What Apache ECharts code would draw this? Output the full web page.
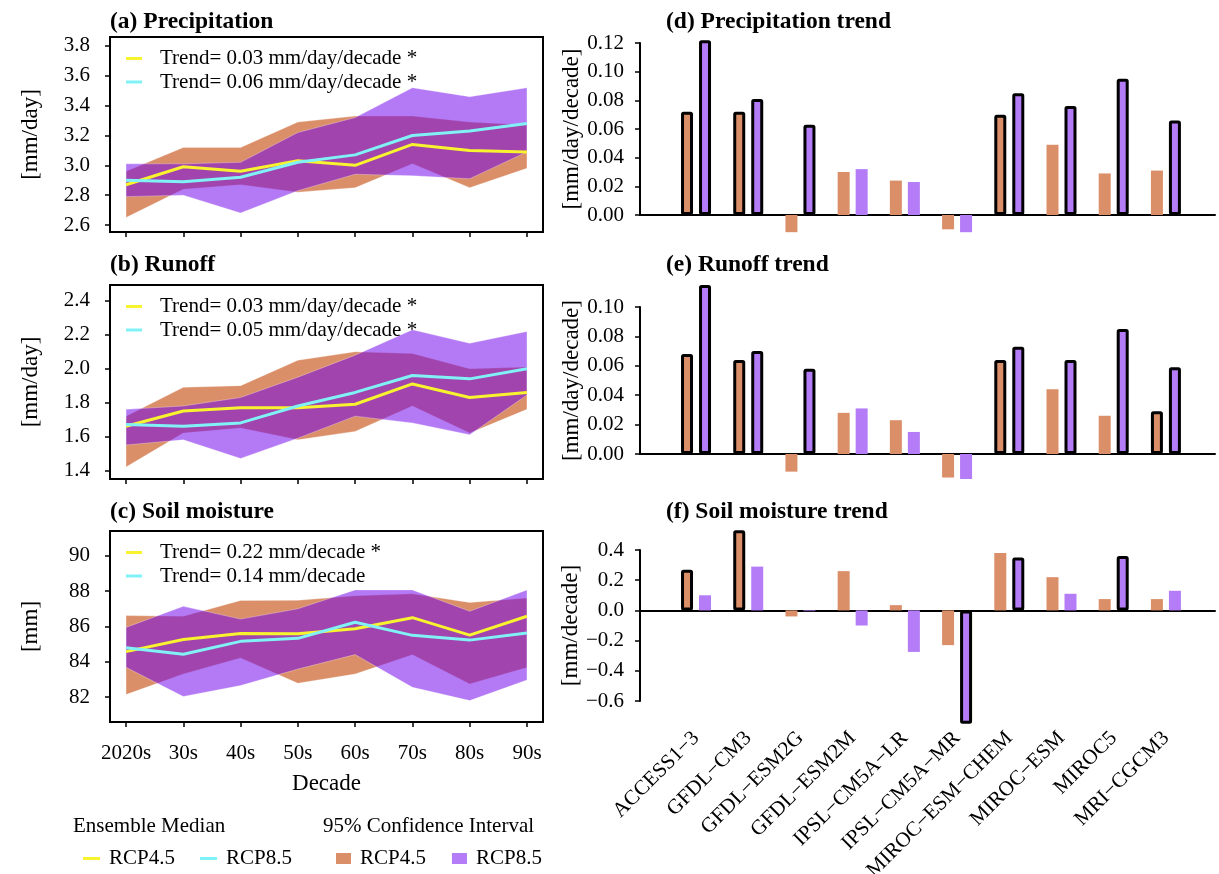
<!DOCTYPE html>
<html><head><meta charset="utf-8">
<script src="https://cdn.jsdelivr.net/npm/echarts@6/dist/echarts.min.js"></script>
<style>html,body{margin:0;padding:0;background:#fff}#c{width:1219px;height:874px}</style>
</head><body><div id="c"></div>
<script>
// ---------------- data ----------------
var decades = ['2020s', '30s', '40s', '50s', '60s', '70s', '80s', '90s'];

var precMed45 = [2.87, 2.99, 2.96, 3.03, 3.00, 3.14, 3.10, 3.09];
var precMed85 = [2.90, 2.89, 2.92, 3.02, 3.07, 3.20, 3.23, 3.28];
var precLo45  = [2.65, 2.84, 2.87, 2.82, 2.85, 3.01, 2.85, 2.98];
var precHi45  = [2.96, 3.12, 3.12, 3.29, 3.33, 3.33, 3.29, 3.27];
var precLo85  = [2.79, 2.80, 2.68, 2.83, 2.94, 2.93, 2.91, 3.09];
var precHi85  = [3.01, 3.01, 3.02, 3.22, 3.32, 3.52, 3.46, 3.52];
var precTicks = [2.6, 2.8, 3.0, 3.2, 3.4, 3.6, 3.8];
var precTrend = ['Trend= 0.03 mm/day/decade *', 'Trend= 0.06 mm/day/decade *'];

var runMed45 = [1.66, 1.75, 1.77, 1.77, 1.79, 1.91, 1.83, 1.86];
var runMed85 = [1.67, 1.66, 1.68, 1.78, 1.86, 1.96, 1.94, 2.00];
var runLo45  = [1.42, 1.62, 1.65, 1.58, 1.63, 1.78, 1.62, 1.76];
var runHi45  = [1.72, 1.89, 1.90, 2.05, 2.10, 2.09, 2.00, 2.01];
var runLo85  = [1.55, 1.58, 1.47, 1.59, 1.72, 1.68, 1.61, 1.845];
var runHi85  = [1.76, 1.78, 1.83, 1.95, 2.08, 2.23, 2.15, 2.22];
var runTicks = [1.4, 1.6, 1.8, 2.0, 2.2, 2.4];
var runTrend = ['Trend= 0.03 mm/day/decade *', 'Trend= 0.05 mm/day/decade *'];

var soilMed45 = [84.58, 85.27, 85.61, 85.59, 85.87, 86.50, 85.51, 86.58];
var soilMed85 = [84.80, 84.43, 85.16, 85.33, 86.24, 85.50, 85.23, 85.63];
var soilLo45  = [82.15, 83.31, 84.22, 82.79, 83.31, 84.40, 82.75, 83.68];
var soilHi45  = [86.62, 86.58, 87.47, 87.48, 87.74, 87.85, 87.36, 87.61];
var soilLo85  = [83.69, 82.04, 82.66, 83.59, 84.41, 82.56, 81.81, 82.97];
var soilHi85  = [85.95, 87.14, 86.42, 87.00, 88.07, 88.07, 86.86, 88.07];
var soilTicks = [82, 84, 86, 88, 90];
var soilTrend = ['Trend= 0.22 mm/decade *', 'Trend= 0.14 mm/decade'];

var models = ['ACCESS1\u22123', 'GFDL\u2212CM3', 'GFDL\u2212ESM2G', 'GFDL\u2212ESM2M', 'IPSL\u2212CM5A\u2212LR',
              'IPSL\u2212CM5A\u2212MR', 'MIROC\u2212ESM\u2212CHEM', 'MIROC\u2212ESM', 'MIROC5', 'MRI\u2212CGCM3'];
var precTr45 = [0.072, 0.072, -0.012, 0.030, 0.024, -0.010, 0.070, 0.049, 0.029, 0.031];
var precTr85 = [0.122, 0.081, 0.063, 0.032, 0.023, -0.012, 0.085, 0.076, 0.095, 0.066];
var precSig45 = [1, 1, 0, 0, 0, 0, 1, 0, 0, 0];
var precSig85 = [1, 1, 1, 0, 0, 0, 1, 1, 1, 1];
var runTr45 = [0.068, 0.064, -0.012, 0.028, 0.023, -0.016, 0.064, 0.044, 0.026, 0.029];
var runTr85 = [0.115, 0.070, 0.058, 0.031, 0.015, -0.017, 0.073, 0.064, 0.085, 0.059];
var runSig45 = [1, 1, 0, 0, 0, 0, 1, 0, 0, 1];
var runSig85 = [1, 1, 1, 0, 0, 0, 1, 1, 1, 1];
var soilTr45 = [0.27, 0.53, -0.04, 0.26, 0.035, -0.23, 0.38, 0.22, 0.075, 0.075];
var soilTr85 = [0.10, 0.29, -0.005, -0.10, -0.275, -0.75, 0.35, 0.11, 0.36, 0.13];
var soilSig45 = [1, 1, 0, 0, 0, 0, 0, 0, 0, 0];
var soilSig85 = [0, 0, 0, 0, 0, 1, 1, 0, 1, 0];

// ---------------- style ----------------
var FONT = 'Liberation Serif';
var ORANGE = '#DA8F69', PURPLE = '#B47CF6', PURPLE_T = 'rgba(111,0,236,0.52)';
var YELLOW = '#F7F32E', CYAN = '#80F2F6';

function fmt(v, d) {
  if (Math.abs(v) < 1e-9) v = 0;
  return v.toFixed(d).replace('-', '\u2212');
}
function idx(n) { var a = []; for (var i = 0; i < n; i++) a.push(i); return a; }

var leftPanels = [
  {title: '(a) Precipitation', top: 37, height: 195, min: 2.553, max: 3.86, ticks: precTicks, dec: 1, name: '[mm/day]',
   m45: precMed45, m85: precMed85, lo45: precLo45, hi45: precHi45, lo85: precLo85, hi85: precHi85, trend: precTrend, tTop: 9.5},
  {title: '(b) Runoff', top: 285, height: 194, min: 1.349, max: 2.494, ticks: runTicks, dec: 1, name: '[mm/day]',
   m45: runMed45, m85: runMed85, lo45: runLo45, hi45: runHi45, lo85: runLo85, hi85: runHi85, trend: runTrend, tTop: 253},
  {title: '(c) Soil moisture', top: 531, height: 191, min: 80.6, max: 91.4, ticks: soilTicks, dec: 0, name: '[mm]',
   m45: soilMed45, m85: soilMed85, lo45: soilLo45, hi45: soilHi45, lo85: soilLo85, hi85: soilHi85, trend: soilTrend, tTop: 500}
];
var rightPanels = [
  {title: '(d) Precipitation trend', top: 43, height: 172, min: 0, max: 0.12, interval: 0.02, dec: 2, name: '[mm/day/decade]',
   v45: precTr45, v85: precTr85, s45: precSig45, s85: precSig85, tTop: 9.5},
  {title: '(e) Runoff trend', top: 307, height: 147, min: 0, max: 0.10, interval: 0.02, dec: 2, name: '[mm/day/decade]',
   v45: runTr45, v85: runTr85, s45: runSig45, s85: runSig85, tTop: 253},
  {title: '(f) Soil moisture trend', top: 550, height: 151, min: -0.6, max: 0.4, interval: 0.2, dec: 1, name: '[mm/decade]',
   v45: soilTr45, v85: soilTr85, s45: soilSig45, s85: soilSig85, tTop: 500}
];

var grids = [], xAxes = [], yAxes = [], series = [], titles = [], legends = [];
var txt = {fontFamily: FONT, color: '#000'};

function bandSeries(name, hi, lo, color, gi, z) {
  return {
    type: 'custom', name: name, xAxisIndex: gi, yAxisIndex: gi, z: z, silent: true,
    itemStyle: {color: color}, data: [[0, lo[0]]],
    renderItem: function (params, api) {
      var pts = [], i;
      for (i = 0; i < hi.length; i++) pts.push(api.coord([i, hi[i]]));
      for (i = lo.length - 1; i >= 0; i--) pts.push(api.coord([i, lo[i]]));
      return {type: 'polygon', shape: {points: pts},
              style: {fill: color, stroke: 'rgba(255,255,255,0.3)', lineWidth: 1}};
    }
  };
}
function lineSeries(name, vals, color, gi, z) {
  return {
    type: 'line', name: name, xAxisIndex: gi, yAxisIndex: gi, z: z, color: color,
    symbol: 'none', silent: true, lineStyle: {color: color, width: 3},
    data: vals.map(function (v, i) { return [i, v]; })
  };
}
function barSeries(name, vals, sig, color, gi) {
  return {
    type: 'bar', name: name, xAxisIndex: gi, yAxisIndex: gi, clip: false, silent: true,
    barWidth: 12, barGap: '50%', itemStyle: {color: color},
    data: vals.map(function (v, i) {
      var d = {value: [i, v]};
      if (sig[i]) d.itemStyle = {color: color, borderColor: '#000', borderWidth: 3, borderRadius: 1};
      return d;
    })
  };
}

leftPanels.forEach(function (p, k) {
  grids.push({left: 110, right: 676, top: p.top, height: p.height, show: true, containLabel: false,
              outerBoundsMode: 'none',
              borderColor: '#000', borderWidth: 2, backgroundColor: 'rgba(0,0,0,0)'});
  xAxes.push({
    gridIndex: k, type: 'value', min: -0.28, max: 7.28, position: 'bottom',
    axisLine: {show: false, onZero: false},
    axisTick: {show: true, inside: false, length: 5, customValues: idx(8), lineStyle: {color: '#000', width: 1.5}},
    axisLabel: {show: k === 2, customValues: idx(8), margin: 21, fontSize: 21, fontFamily: FONT, color: '#000',
                formatter: function (v) { return decades[Math.round(v)]; }},
    splitLine: {show: false},
    name: k === 2 ? 'Decade' : '', nameLocation: 'middle', nameGap: 50,
    nameTextStyle: {fontSize: 23, fontFamily: FONT, color: '#000'}
  });
  yAxes.push({
    gridIndex: k, type: 'value', min: p.min, max: p.max,
    axisLine: {show: false, onZero: false},
    axisTick: {show: true, inside: false, length: 5, customValues: p.ticks, lineStyle: {color: '#000', width: 1.5}},
    axisLabel: {customValues: p.ticks, margin: 20, fontSize: 21, fontFamily: FONT, color: '#000',
                formatter: (function (d) { return function (v) { return fmt(v, d); }; })(p.dec)},
    splitLine: {show: false},
    name: p.name, nameLocation: 'middle', nameGap: 68,
    nameTextStyle: {fontSize: 23, fontFamily: FONT, color: '#000'}
  });
  series.push(bandSeries('RCP4.5 CI', p.hi45, p.lo45, ORANGE, k, 2));
  series.push(bandSeries('RCP8.5 CI', p.hi85, p.lo85, PURPLE_T, k, 3));
  series.push(lineSeries('RCP4.5', p.m45, YELLOW, k, 4));
  series.push(lineSeries('RCP8.5', p.m85, CYAN, k, 5));
  titles.push({text: p.title, left: 110, top: p.tTop, padding: 0,
               textStyle: {fontFamily: FONT, fontSize: 23.5, fontWeight: 'bold', color: '#000'}});
  legends.push({
    orient: 'vertical', left: 126, top: p.top + 11, padding: 0, itemGap: 2.5,
    itemWidth: 16, itemHeight: 3, icon: 'rect', selectedMode: false,
    itemStyle: {borderWidth: 0},
    data: ['RCP4.5', 'RCP8.5'],
    formatter: (function (labels) { return function (n) { return n === 'RCP4.5' ? labels[0] : labels[1]; }; })(p.trend),
    textStyle: {fontFamily: FONT, fontSize: 21, color: '#000', padding: [0, 0, 0, 13]}
  });
});

rightPanels.forEach(function (p, j) {
  var gi = 3 + j;
  grids.push({left: 640, right: 4, top: p.top, height: p.height, containLabel: false, outerBoundsMode: 'none'});
  xAxes.push({
    gridIndex: gi, type: 'value', min: -1.073, max: 9.94, position: 'bottom',
    axisLine: {show: true, onZero: true, lineStyle: {color: '#000', width: 2}},
    axisTick: {show: false}, axisLabel: {show: false}, splitLine: {show: false}
  });
  yAxes.push({
    gridIndex: gi, type: 'value', min: p.min, max: p.max, interval: p.interval,
    axisLine: {show: true, onZero: false, lineStyle: {color: '#000', width: 2}},
    axisTick: {show: true, inside: false, length: 5, lineStyle: {color: '#000', width: 1.5}},
    axisLabel: {margin: 16, fontSize: 21, fontFamily: FONT, color: '#000',
                formatter: (function (d) { return function (v) { return fmt(v, d); }; })(p.dec)},
    splitLine: {show: false},
    name: p.name, nameLocation: 'middle', nameGap: 43,
    nameTextStyle: {fontSize: 23, fontFamily: FONT, color: '#000'}
  });
  series.push(barSeries('RCP4.5 model trend', p.v45, p.s45, ORANGE, gi));
  series.push(barSeries('RCP8.5 model trend', p.v85, p.s85, PURPLE, gi));
  titles.push({text: p.title, left: 666, top: p.tTop, padding: 0,
               textStyle: {fontFamily: FONT, fontSize: 23.5, fontWeight: 'bold', color: '#000'}});
});

// model-name labels under panel (f)
xAxes.push({
  gridIndex: 5, type: 'value', min: -1.073, max: 9.94, position: 'bottom',
  axisLine: {show: false, onZero: false}, axisTick: {show: false}, splitLine: {show: false},
  axisLabel: {show: true, customValues: idx(10), rotate: 45, margin: 34, fontSize: 21, fontFamily: FONT, color: '#000',
              formatter: function (v) { return models[Math.round(v)]; }}
});

titles.push({text: 'Ensemble Median', left: 73, top: 816, padding: 0,
             textStyle: {fontFamily: FONT, fontSize: 21, fontWeight: 'normal', color: '#000'}});
titles.push({text: '95% Confidence Interval', left: 323, top: 816, padding: 0,
             textStyle: {fontFamily: FONT, fontSize: 21, fontWeight: 'normal', color: '#000'}});

legends.push({
  orient: 'horizontal', left: 83, top: 848, padding: 0, itemGap: 25,
  itemWidth: 17, itemHeight: 3, icon: 'rect', selectedMode: false, itemStyle: {borderWidth: 0},
  data: ['RCP4.5', 'RCP8.5'],
  textStyle: {fontFamily: FONT, fontSize: 21, color: '#000', padding: [0, 0, 0, 4]}
});
legends.push({
  orient: 'horizontal', left: 336, top: 848, padding: 0, itemGap: 26,
  itemWidth: 15, itemHeight: 11, icon: 'rect', selectedMode: false,
  data: [{name: 'RCP4.5 CI', itemStyle: {color: ORANGE, borderWidth: 0}},
         {name: 'RCP8.5 CI', itemStyle: {color: PURPLE, borderWidth: 0}}],
  formatter: function (n) { return n.replace(' CI', ''); },
  textStyle: {fontFamily: FONT, fontSize: 21, color: '#000', padding: [0, 0, 0, 4]}
});

var chart = echarts.init(document.getElementById('c'), null, {renderer: 'canvas', width: 1219, height: 874});
chart.setOption({
  animation: false,
  backgroundColor: '#fff',
  textStyle: txt,
  title: titles,
  legend: legends,
  grid: grids,
  xAxis: xAxes,
  yAxis: yAxes,
  series: series
});
</script></body></html>
